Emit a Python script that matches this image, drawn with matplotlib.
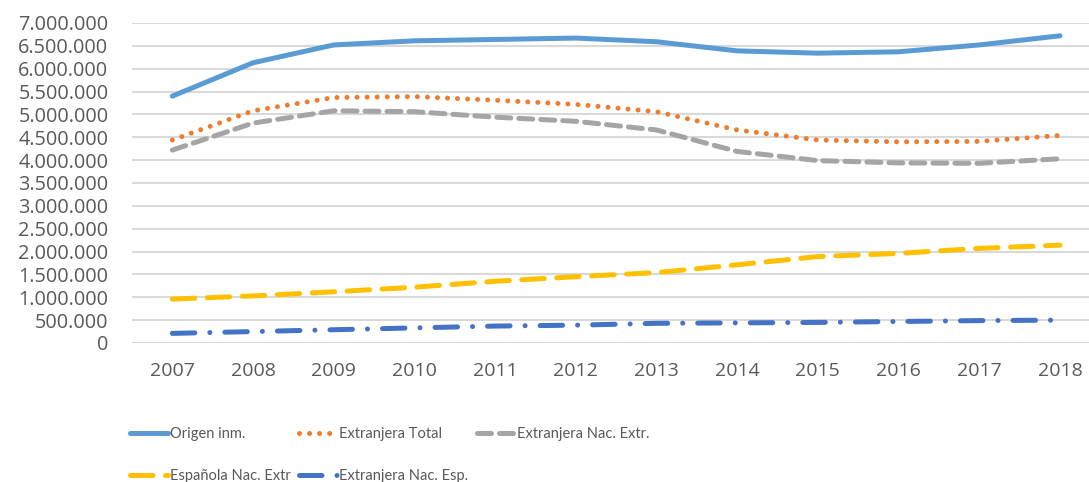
import matplotlib.pyplot as plt
import matplotlib.ticker as mticker

years = ['2007', '2008', '2009', '2010', '2011', '2012',
         '2013', '2014', '2015', '2016', '2017', '2018']
origen = [5.40, 6.13, 6.52, 6.61, 6.64, 6.67, 6.59, 6.39, 6.34, 6.37, 6.52, 6.72]
extr_total = [4.44, 5.08, 5.37, 5.39, 5.31, 5.22, 5.06, 4.66, 4.44, 4.40, 4.41, 4.54]
extr_nac_extr = [4.22, 4.81, 5.08, 5.06, 4.94, 4.85, 4.66, 4.19, 3.99, 3.94, 3.93, 4.03]
esp_nac_extr = [0.96, 1.03, 1.12, 1.22, 1.35, 1.45, 1.54, 1.71, 1.89, 1.96, 2.07, 2.14]
extr_nac_esp = [0.21, 0.25, 0.29, 0.33, 0.37, 0.39, 0.43, 0.44, 0.45, 0.47, 0.49, 0.50]
labels = ['Origen inm.', 'Extranjera Total', 'Extranjera Nac. Extr.',
          'Española Nac. Extr', 'Extranjera Nac. Esp.']

plt.rcParams['font.family'] = ['Open Sans', 'DejaVu Sans']
txt = '#595959'

fig = plt.figure(figsize=(10.89, 4.82), dpi=100)
ax = fig.add_axes([0.1212, 0.2884, 0.8788, 0.6639])

x = range(len(years))
lw = 3.6
h1, = ax.plot(x, [v * 1e6 for v in origen], color='#5B9BD5', lw=lw,
              solid_capstyle='round')
h2, = ax.plot(x, [v * 1e6 for v in extr_total], color='#ED7D31', lw=lw,
              linestyle=(0, (0.01, 2.0)), dash_capstyle='round')
h3, = ax.plot(x, [v * 1e6 for v in extr_nac_extr], color='#A5A5A5', lw=lw,
              linestyle=(0, (2.8, 1.6)), dash_capstyle='round')
h4, = ax.plot(x, [v * 1e6 for v in esp_nac_extr], color='#FFC000', lw=lw,
              linestyle=(0, (4.5, 2.5)), dash_capstyle='round')
h5, = ax.plot(x, [v * 1e6 for v in extr_nac_esp], color='#4472C4', lw=lw,
              linestyle=(0, (4.5, 3.0, 0.01, 3.0)), dash_capstyle='round')

ax.set_ylim(0, 7e6)
ax.set_xlim(-0.5, 11.36)
ax.set_yticks([i * 5e5 for i in range(15)])
ax.yaxis.set_major_formatter(mticker.FuncFormatter(
    lambda v, p: f'{int(v):,}'.replace(',', '.')))
ax.set_xticks(list(x))
ax.set_xticklabels(years)
ax.tick_params(length=0, labelcolor=txt)
ax.tick_params(axis='y', pad=17, labelsize=14.3)
ax.tick_params(axis='x', pad=14, labelsize=14)
ax.grid(axis='y', color='#D9D9D9', lw=1.5)
ax.set_axisbelow(True)
for s in ax.spines.values():
    s.set_visible(False)

# legend is filled column by column, so reorder to get row order
handles = [h1, h4, h2, h5, h3]
leg_labels = [labels[0], labels[3], labels[1], labels[4], labels[2]]
leg = fig.legend(handles, leg_labels, ncol=3, loc='lower left',
                 bbox_to_anchor=(0.107, -0.03), frameon=False,
                 prop={'family': ['Lato', 'Open Sans'], 'size': 10.5},
                 handlelength=2.6, handletextpad=0.15,
                 columnspacing=0.6, labelspacing=1.95)
for t in leg.get_texts():
    t.set_color(txt)

fig.savefig('out.png', dpi=100)
